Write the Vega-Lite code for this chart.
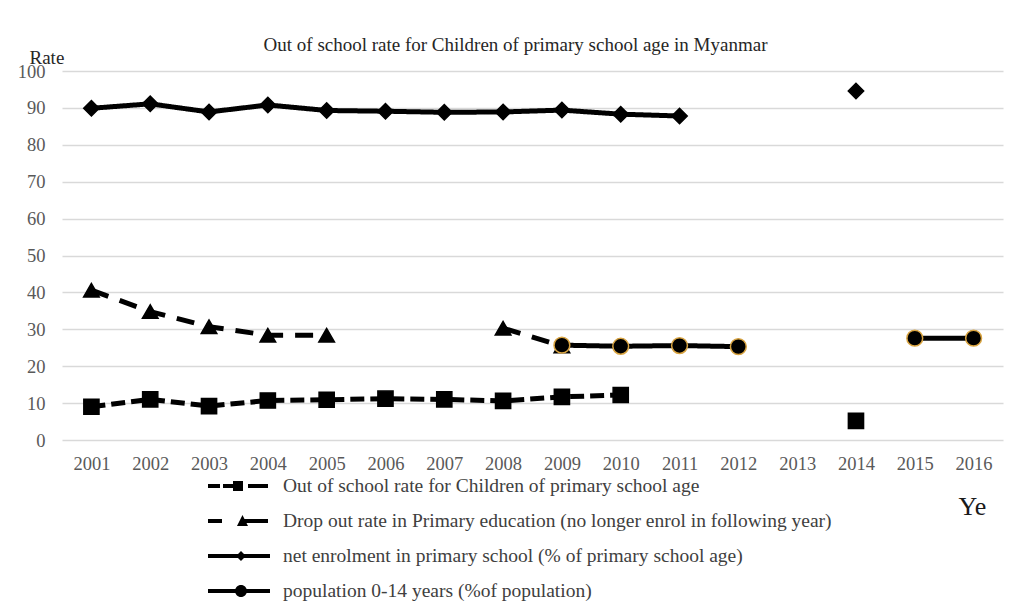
{
  "$schema": "https://vega.github.io/schema/vega-lite/v6.json",
  "width": 941,
  "height": 369,
  "autosize": {"type": "none"},
  "padding": {"left": 62, "top": 71, "right": 14, "bottom": 173},
  "background": "white",
  "title": {
    "text": "Out of school rate for Children of primary school age in Myanmar",
    "font": "Liberation Serif",
    "fontSize": 19,
    "fontWeight": "normal",
    "color": "#262626",
    "anchor": "middle",
    "baseline": "alphabetic",
    "dx": -17,
    "offset": -22
  },
  "data": {
    "values": [
      {"year": 2001, "s": "a", "seg": "a1", "value": 9.0},
      {"year": 2002, "s": "a", "seg": "a1", "value": 11.0},
      {"year": 2003, "s": "a", "seg": "a1", "value": 9.2},
      {"year": 2004, "s": "a", "seg": "a1", "value": 10.7},
      {"year": 2005, "s": "a", "seg": "a1", "value": 10.9},
      {"year": 2006, "s": "a", "seg": "a1", "value": 11.2},
      {"year": 2007, "s": "a", "seg": "a1", "value": 11.0},
      {"year": 2008, "s": "a", "seg": "a1", "value": 10.6},
      {"year": 2009, "s": "a", "seg": "a1", "value": 11.7},
      {"year": 2010, "s": "a", "seg": "a1", "value": 12.2},
      {"year": 2014, "s": "a", "seg": "a2", "value": 5.2},
      {"year": 2001, "s": "b", "seg": "b1", "value": 40.6},
      {"year": 2002, "s": "b", "seg": "b1", "value": 34.8},
      {"year": 2003, "s": "b", "seg": "b1", "value": 30.7},
      {"year": 2004, "s": "b", "seg": "b1", "value": 28.4},
      {"year": 2005, "s": "b", "seg": "b1", "value": 28.4},
      {"year": 2008, "s": "b", "seg": "b2", "value": 30.3},
      {"year": 2009, "s": "b", "seg": "b2", "value": 25.5},
      {"year": 2001, "s": "c", "seg": "c1", "value": 89.9},
      {"year": 2002, "s": "c", "seg": "c1", "value": 91.1},
      {"year": 2003, "s": "c", "seg": "c1", "value": 88.9},
      {"year": 2004, "s": "c", "seg": "c1", "value": 90.8},
      {"year": 2005, "s": "c", "seg": "c1", "value": 89.3},
      {"year": 2006, "s": "c", "seg": "c1", "value": 89.1},
      {"year": 2007, "s": "c", "seg": "c1", "value": 88.8},
      {"year": 2008, "s": "c", "seg": "c1", "value": 88.9},
      {"year": 2009, "s": "c", "seg": "c1", "value": 89.4},
      {"year": 2010, "s": "c", "seg": "c1", "value": 88.3},
      {"year": 2011, "s": "c", "seg": "c1", "value": 87.8},
      {"year": 2014, "s": "c", "seg": "c2", "value": 94.6},
      {"year": 2009, "s": "d", "seg": "d1", "value": 25.7},
      {"year": 2010, "s": "d", "seg": "d1", "value": 25.4},
      {"year": 2011, "s": "d", "seg": "d1", "value": 25.6},
      {"year": 2012, "s": "d", "seg": "d1", "value": 25.3},
      {"year": 2015, "s": "d", "seg": "d2", "value": 27.6},
      {"year": 2016, "s": "d", "seg": "d2", "value": 27.6}
    ]
  },
  "encoding": {
    "x": {
      "field": "year",
      "type": "quantitative",
      "scale": {"domain": [2000.5, 2016.5], "nice": false, "zero": false},
      "axis": {
        "values": [2001, 2002, 2003, 2004, 2005, 2006, 2007, 2008, 2009, 2010, 2011, 2012, 2013, 2014, 2015, 2016],
        "format": "d",
        "grid": false,
        "domain": false,
        "ticks": false,
        "tickSize": 0,
        "labelPadding": 14,
        "labelFont": "Liberation Serif",
        "labelFontSize": 18.5,
        "labelColor": "#595959",
        "title": "Ye",
        "titleFont": "Liberation Serif",
        "titleFontSize": 26,
        "titleFontWeight": "normal",
        "titleColor": "#1a1a1a",
        "titleAlign": "left",
        "titleBaseline": "alphabetic",
        "titleAnchor": "start",
        "titleX": 896,
        "titleY": 74
      }
    },
    "y": {
      "field": "value",
      "type": "quantitative",
      "scale": {"domain": [0, 100], "nice": false},
      "axis": {
        "values": [0, 10, 20, 30, 40, 50, 60, 70, 80, 90, 100],
        "grid": true,
        "gridColor": "#d9d9d9",
        "gridWidth": 1.5,
        "domain": false,
        "ticks": false,
        "tickSize": 0,
        "labelPadding": 17,
        "labelFont": "Liberation Serif",
        "labelFontSize": 18.5,
        "labelColor": "#595959",
        "title": "Rate",
        "titleAngle": 0,
        "titleFont": "Liberation Serif",
        "titleFontSize": 19,
        "titleFontWeight": "normal",
        "titleColor": "#262626",
        "titleAlign": "left",
        "titleBaseline": "alphabetic",
        "titleAnchor": "start",
        "titleX": -33,
        "titleY": -8
      }
    }
  },
  "layer": [
    {
      "mark": {"type": "line", "color": "black", "strokeWidth": 5, "strokeCap": "butt"},
      "encoding": {
        "detail": {"field": "seg"},
        "strokeDash": {
          "field": "s",
          "type": "nominal",
          "scale": {"domain": ["d", "c", "b", "a"], "range": [[1, 0], [1, 0], [18, 12], [14, 6]]},
          "legend": null
        }
      }
    },
    {
      "mark": {"type": "point", "filled": true, "opacity": 1, "strokeWidth": 1.5},
      "encoding": {
        "shape": {
          "field": "s",
          "type": "nominal",
          "scale": {"domain": ["d", "c", "b", "a"], "range": ["circle", "diamond", "triangle-up", "square"]},
          "legend": null
        },
        "size": {
          "field": "s",
          "type": "nominal",
          "scale": {"domain": ["d", "b", "c", "a"], "range": [250, 230, 260, 180]},
          "legend": null
        },
        "stroke": {
          "field": "s",
          "type": "nominal",
          "scale": {"domain": ["d", "a", "b", "c"], "range": ["#d9a441", "black", "black", "black"]},
          "legend": null
        },
        "fill": {
          "field": "s",
          "type": "nominal",
          "scale": {"domain": ["a", "b", "c", "d"], "range": ["black", "black", "black", "black"]},
          "legend": null
        }
      }
    },
    {
      "transform": [{"filter": "datum.year > 3000"}],
      "mark": {"type": "point", "filled": true, "color": "black", "opacity": 1, "size": 900, "strokeWidth": 0},
      "encoding": {
        "shape": {
          "field": "s",
          "type": "nominal",
          "scale": {
            "domain": ["a", "b", "c", "d"],
            "range": [
              "M-2,-0.133H-1.2V0.133H-2Z M-1,-0.133H-0.333V0.133H-1Z M-0.333,-0.333H0.333V0.333H-0.333Z M0.667,-0.133H2V0.133H0.667Z",
              "M-2,-0.133H-1.067V0.133H-2Z M0.3,-0.133H2V0.133H0.3Z M-0.067,0.333L0.3,-0.4L0.667,0.333Z",
              "M-2,-0.133H2.133V0.133H-2Z M0.2,-0.333L0.533,0L0.2,0.333L-0.133,0Z",
              "M-2,-0.133H2.133V0.133H-2Z M-0.2,0A0.4,0.4 0 1,1 0.6,0A0.4,0.4 0 1,1 -0.2,0Z"
            ]
          },
          "legend": {
            "orient": "none",
            "legendX": 161,
            "legendY": 400,
            "direction": "vertical",
            "title": null,
            "padding": 0,
            "rowPadding": 10,
            "symbolSize": 900,
            "symbolFillColor": "black",
            "symbolStrokeWidth": 0,
            "labelOffset": 30,
            "labelLimit": 900,
            "labelFont": "Liberation Serif",
            "labelFontSize": 19.5,
            "labelColor": "#404040",
            "labelExpr": "datum.value === 'a' ? 'Out of school rate for Children of primary school age' : datum.value === 'b' ? 'Drop out rate in Primary education (no longer enrol in following year)' : datum.value === 'c' ? 'net enrolment in primary school (% of primary school age)' : 'population 0-14 years (%of population)'"
          }
        }
      }
    }
  ],
  "resolve": {"scale": {"shape": "independent"}},
  "config": {
    "view": {"stroke": null},
    "font": "Liberation Serif"
  }
}
